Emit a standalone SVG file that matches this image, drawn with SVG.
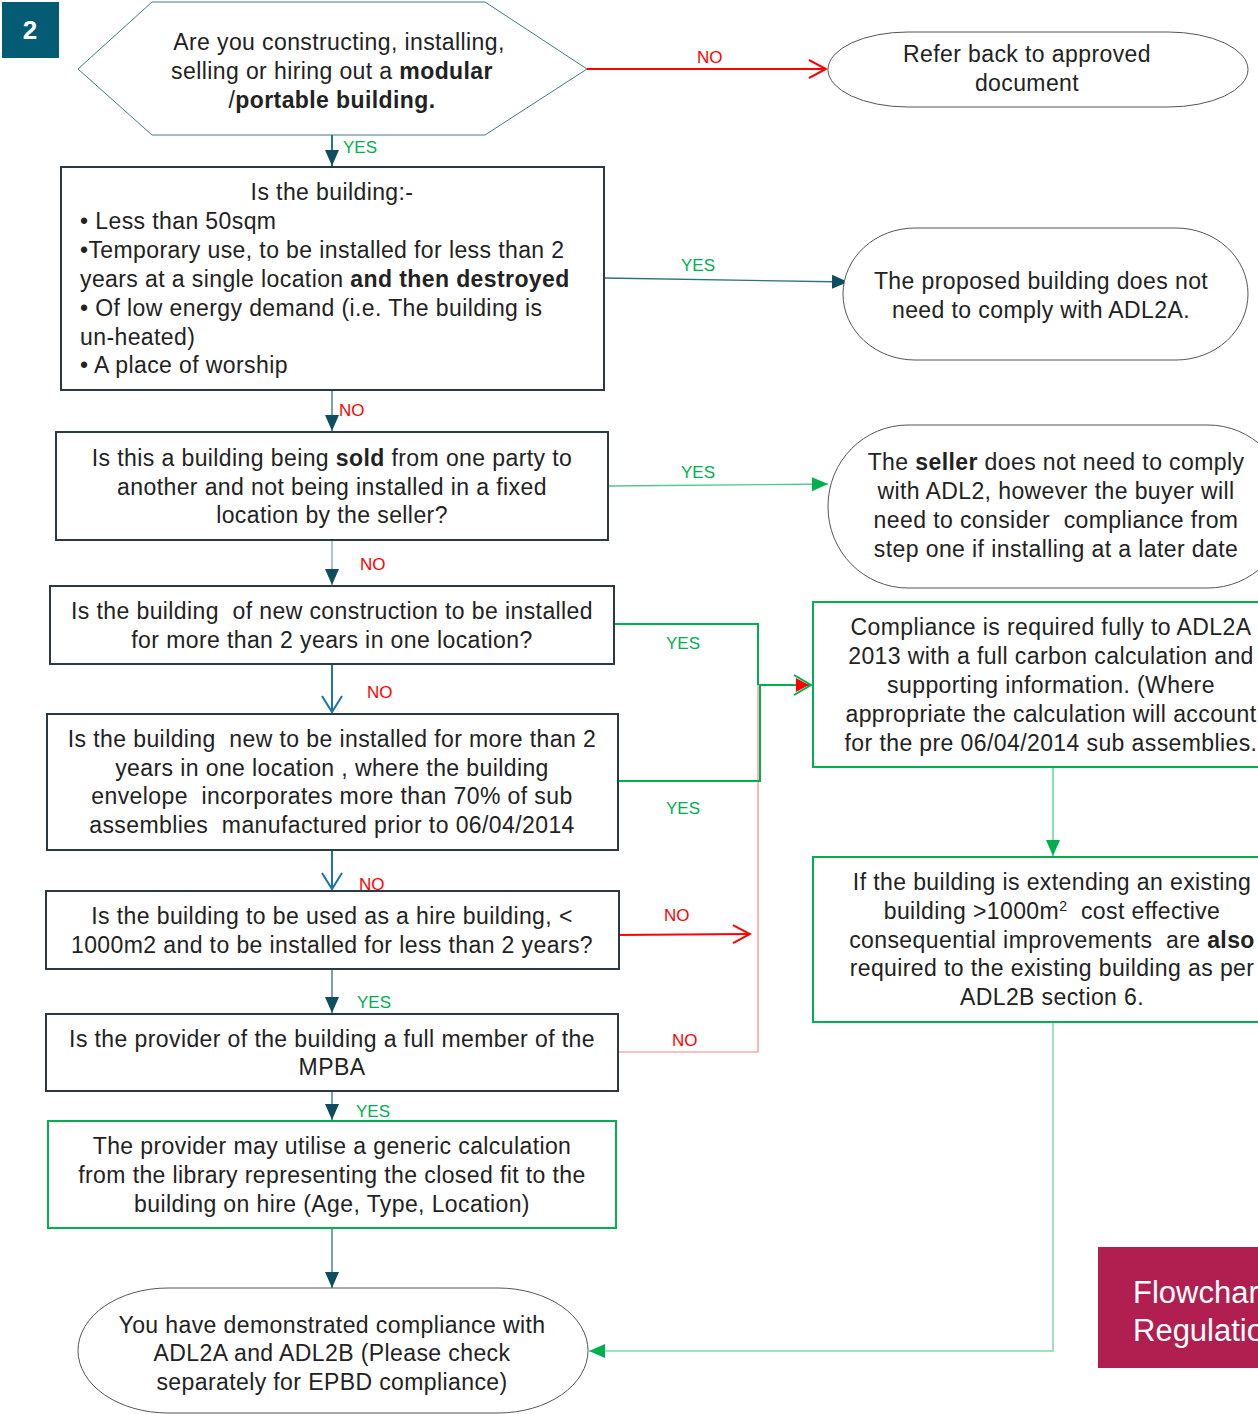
<svg xmlns="http://www.w3.org/2000/svg" width="1258" height="1414" viewBox="0 0 1258 1414">
<style>
text{font-family:"Liberation Sans",Arial,sans-serif;fill:#222;white-space:pre;}
.t{font-size:23px;letter-spacing:0.4px;}
.c{text-anchor:middle;}
.b{font-weight:bold;}
.lbl{font-size:17px;}
.no{fill:#ff0000;}
.yes{fill:#00b050;}
.box{fill:#fff;stroke:#2b3a42;stroke-width:2;}
.gbox{fill:#fff;stroke:#00b050;stroke-width:2;}
.oval{fill:#fff;stroke:#555;stroke-width:1;}
.cn{fill:none;}
</style>
<defs>
<marker id="triD" markerUnits="userSpaceOnUse" markerWidth="16" markerHeight="16" refX="16" refY="8" orient="auto"><path d="M0,1 L16,8 L0,15 z" fill="#0e4f5f"/></marker>
<marker id="triG" markerUnits="userSpaceOnUse" markerWidth="16" markerHeight="16" refX="16" refY="8" orient="auto"><path d="M0,1 L16,8 L0,15 z" fill="#00b050"/></marker>
<marker id="openR" markerUnits="userSpaceOnUse" markerWidth="20" markerHeight="22" refX="18" refY="11" orient="auto"><path d="M1,2 L18,11 L1,20" fill="none" stroke="#ff0000" stroke-width="2"/></marker>
<marker id="openT" markerUnits="userSpaceOnUse" markerWidth="20" markerHeight="22" refX="18" refY="11" orient="auto"><path d="M2,1 L18,11 L2,21" fill="none" stroke="#1b75a0" stroke-width="2"/></marker>
<marker id="mix" markerUnits="userSpaceOnUse" markerWidth="20" markerHeight="22" refX="18" refY="11" orient="auto"><path d="M3,4 L16,11 L3,18 z" fill="#ff0000"/><path d="M1,1 L18,11 L1,21" fill="none" stroke="#00b050" stroke-width="2"/></marker>
</defs>

<g id="connectors">
<line x1="587" y1="69" x2="826" y2="69" stroke="#ff0000" stroke-width="2" marker-end="url(#openR)"/>
<text class="lbl no" x="697" y="63">NO</text>
<line x1="332" y1="135" x2="332" y2="166" stroke="#1b75a0" stroke-width="2" marker-end="url(#triD)"/>
<text class="lbl yes" x="343" y="153">YES</text>
<line x1="604" y1="278" x2="848" y2="282" stroke="#2e6f80" stroke-width="1.3" marker-end="url(#triD)"/>
<text class="lbl yes" x="681" y="271">YES</text>
<line x1="332" y1="390" x2="332" y2="431" stroke="#2e6f80" stroke-width="1.3" marker-end="url(#triD)"/>
<text class="lbl no" x="339" y="416">NO</text>
<line x1="608" y1="486" x2="828" y2="484" stroke="#4cc98a" stroke-width="1.3" marker-end="url(#triG)"/>
<text class="lbl yes" x="681" y="478">YES</text>
<line x1="332" y1="540" x2="332" y2="585" stroke="#7aa8b5" stroke-width="1.3" marker-end="url(#triD)"/>
<text class="lbl no" x="360" y="570">NO</text>
<polyline class="cn" points="614,624 758,624 758,685" stroke="#00b050" stroke-width="2"/>
<text class="lbl yes" x="666" y="649">YES</text>
<line x1="758" y1="685" x2="758" y2="1052" stroke="#ff8080" stroke-width="1.2"/>
<polyline class="cn" points="618,781 760,781 760,685 811,685" stroke="#00b050" stroke-width="2" marker-end="url(#mix)"/>
<text class="lbl yes" x="666" y="814">YES</text>
<line x1="332" y1="664" x2="332" y2="712" stroke="#1b75a0" stroke-width="2" marker-end="url(#openT)"/>
<text class="lbl no" x="367" y="698">NO</text>
<line x1="332" y1="850" x2="332" y2="889" stroke="#1b75a0" stroke-width="2" marker-end="url(#openT)"/>
<text class="lbl no" x="359" y="890">NO</text>
<line x1="615" y1="935" x2="750" y2="934" stroke="#ff0000" stroke-width="2" marker-end="url(#openR)"/>
<text class="lbl no" x="664" y="921">NO</text>
<line x1="332" y1="969" x2="332" y2="1013" stroke="#2e6f80" stroke-width="1.3" marker-end="url(#triD)"/>
<text class="lbl yes" x="357" y="1008">YES</text>
<polyline class="cn" points="618,1052 758,1052" stroke="#ff8080" stroke-width="1.2"/>
<text class="lbl no" x="672" y="1046">NO</text>
<line x1="332" y1="1091" x2="332" y2="1120" stroke="#2e6f80" stroke-width="1.3" marker-end="url(#triD)"/>
<text class="lbl yes" x="356" y="1117">YES</text>
<line x1="332" y1="1228" x2="332" y2="1288" stroke="#2e6f80" stroke-width="1.3" marker-end="url(#triD)"/>
<line x1="1053" y1="767" x2="1053" y2="856" stroke="#4cc98a" stroke-width="1.3" marker-end="url(#triG)"/>
<polyline class="cn" points="1053,1022 1053,1351 589,1351" stroke="#7dd8a8" stroke-width="1.5" marker-end="url(#triG)"/>
</g>

<g id="badge">
<rect x="2" y="2" width="57" height="56" fill="#045c74"/>
<text x="30" y="39" class="c b" style="font-size:26px;fill:#fff">2</text>
</g>

<g id="start">
<polygon points="78,69 152,2 485,2 587,69 485,135 152,135" fill="#fff" stroke="#3d7a8a" stroke-width="1"/>
<text class="t c" x="339" y="50">Are you constructing, installing,</text>
<text class="t c" x="332" y="79">selling or hiring out a <tspan class="b">modular</tspan></text>
<text class="t c" x="332" y="108">/<tspan class="b">portable building.</tspan></text>
</g>

<g id="refer">
<rect class="oval" x="828" y="32" width="420" height="75" rx="80" ry="37.5"/>
<text class="t c" x="1027" y="62">Refer back to approved</text>
<text class="t c" x="1027" y="91">document</text>
</g>

<g id="q1">
<rect class="box" x="61" y="167" width="543" height="223"/>
<text class="t c" x="332" y="200">Is the building:-</text>
<text class="t" x="80" y="229">• Less than 50sqm</text>
<text class="t" x="80" y="258">•Temporary use, to be installed for less than 2</text>
<text class="t" x="80" y="287">years at a single location <tspan class="b">and then destroyed</tspan></text>
<text class="t" x="80" y="316">• Of low energy demand (i.e. The building is</text>
<text class="t" x="80" y="345">un-heated)</text>
<text class="t" x="80" y="373">• A place of worship</text>
</g>

<g id="exempt">
<rect class="oval" x="843" y="228" width="405" height="132" rx="72" ry="66"/>
<text class="t c" x="1041" y="289">The proposed building does not</text>
<text class="t c" x="1041" y="318">need to comply with ADL2A.</text>
</g>

<g id="q2">
<rect class="box" x="56" y="432" width="552" height="108"/>
<text class="t c" x="332" y="466">Is this a building being <tspan class="b">sold</tspan> from one party to</text>
<text class="t c" x="332" y="495">another and not being installed in a fixed</text>
<text class="t c" x="332" y="523">location by the seller?</text>
</g>

<g id="seller">
<rect class="oval" x="828" y="425" width="460" height="163" rx="80" ry="81"/>
<text class="t c" x="1056" y="470">The <tspan class="b">seller</tspan> does not need to comply</text>
<text class="t c" x="1056" y="499">with ADL2, however the buyer will</text>
<text class="t c" x="1056" y="528">need to consider  compliance from</text>
<text class="t c" x="1056" y="557">step one if installing at a later date</text>
</g>

<g id="q3">
<rect class="box" x="50" y="586" width="564" height="78"/>
<text class="t c" x="332" y="619">Is the building  of new construction to be installed</text>
<text class="t c" x="332" y="648">for more than 2 years in one location?</text>
</g>

<g id="full">
<rect class="gbox" x="813" y="602" width="460" height="165"/>
<text class="t c" x="1051" y="635">Compliance is required fully to ADL2A</text>
<text class="t c" x="1051" y="664">2013 with a full carbon calculation and</text>
<text class="t c" x="1051" y="693">supporting information. (Where</text>
<text class="t c" x="1051" y="722">appropriate the calculation will account</text>
<text class="t c" x="1051" y="751">for the pre 06/04/2014 sub assemblies.</text>
</g>

<g id="q4">
<rect class="box" x="47" y="714" width="571" height="136"/>
<text class="t c" x="332" y="747">Is the building  new to be installed for more than 2</text>
<text class="t c" x="332" y="776">years in one location , where the building</text>
<text class="t c" x="332" y="804">envelope  incorporates more than 70% of sub</text>
<text class="t c" x="332" y="833">assemblies  manufactured prior to 06/04/2014</text>
</g>

<g id="extend">
<rect class="gbox" x="813" y="857" width="460" height="165"/>
<text class="t c" x="1052" y="890">If the building is extending an existing</text>
<text class="t c" x="1052" y="919">building &gt;1000m<tspan dy="-8" style="font-size:14px">2</tspan><tspan dy="8">  cost effective</tspan></text>
<text class="t c" x="1052" y="948">consequential improvements  are <tspan class="b">also</tspan></text>
<text class="t c" x="1052" y="976">required to the existing building as per</text>
<text class="t c" x="1052" y="1005">ADL2B section 6.</text>
</g>

<g id="q5">
<rect class="box" x="46" y="891" width="573" height="78"/>
<text class="t c" x="332" y="924">Is the building to be used as a hire building, &lt;</text>
<text class="t c" x="332" y="953">1000m2 and to be installed for less than 2 years?</text>
</g>

<g id="q6">
<rect class="box" x="46" y="1014" width="572" height="77"/>
<text class="t c" x="332" y="1047">Is the provider of the building a full member of the</text>
<text class="t c" x="332" y="1075">MPBA</text>
</g>

<g id="generic">
<rect class="gbox" x="48" y="1121" width="568" height="107"/>
<text class="t c" x="332" y="1154">The provider may utilise a generic calculation</text>
<text class="t c" x="332" y="1183">from the library representing the closed fit to the</text>
<text class="t c" x="332" y="1212">building on hire (Age, Type, Location)</text>
</g>

<g id="done">
<rect class="oval" x="78" y="1288" width="510" height="125" rx="90" ry="62.5"/>
<text class="t c" x="332" y="1333">You have demonstrated compliance with</text>
<text class="t c" x="332" y="1361">ADL2A and ADL2B (Please check</text>
<text class="t c" x="332" y="1390">separately for EPBD compliance)</text>
</g>

<g id="title">
<rect x="1098" y="1247" width="170" height="121" fill="#b11e50"/>
<text x="1133" y="1303" style="font-size:31px;fill:#fff">Flowchar</text>
<text x="1133" y="1341" style="font-size:31px;fill:#fff">Regulatio</text>
</g>
</svg>
